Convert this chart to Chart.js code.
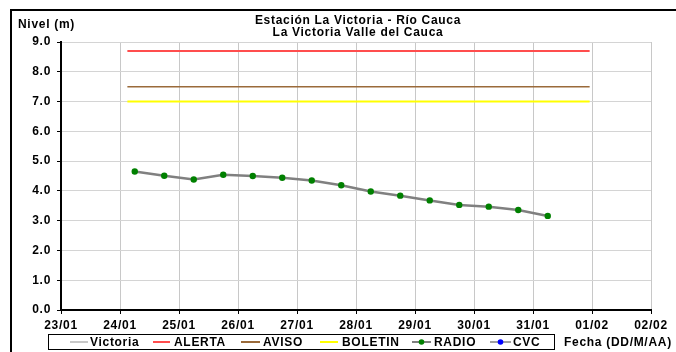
<!DOCTYPE html>
<html>
<head>
<meta charset="UTF-8">
<script src="https://cdn.jsdelivr.net/npm/chart.js@4.4.1/dist/chart.umd.min.js"></script>
<style>
  html, body { margin: 0; padding: 0; background: #fff; }
  #wrap { position: relative; width: 676px; height: 352px; }
</style>
</head>
<body>
<div id="wrap"><canvas id="nivel"></canvas></div>
<script>
// ticks along x: one label per day, starting at 23/01 (day 0)
const dateLabels = ['23/01', '24/01', '25/01', '26/01', '27/01', '28/01', '29/01', '30/01', '31/01', '01/02', '02/02'];

// RADIO readings: time in days after 23/01 00:00, level in m
const radioDays   = [1.25, 1.75, 2.25, 2.75, 3.25, 3.75, 4.25, 4.75, 5.25, 5.75, 6.25, 6.75, 7.25, 7.75, 8.25];
const radioLevels = [4.65, 4.51, 4.38, 4.54, 4.50, 4.44, 4.35, 4.19, 3.98, 3.84, 3.68, 3.53, 3.47, 3.36, 3.16];

// threshold levels (m) and the span they are drawn over
const alertaLevel  = 8.7;
const avisoLevel   = 7.5;
const boletinLevel = 7.0;
const thresholdSpan = [1.125, 8.96];

const titleLines = ['Estación La Victoria - Río Cauca', 'La Victoria Valle del Cauca'];

const FONT = "'Liberation Sans', Arial, sans-serif";
const SIZE = 12;

function flat(level) {
    return thresholdSpan.map(d => ({ x: d, y: level }));
}

const datasets = [
    { label: 'Victoria', data: [], borderColor: '#c8c8c8', borderWidth: 2, pointRadius: 0 },
    { label: 'ALERTA', data: flat(alertaLevel), borderColor: '#ff4d4d', borderWidth: 2, pointRadius: 0 },
    { label: 'AVISO', data: flat(avisoLevel), borderColor: '#9a6a3a', borderWidth: 1.5, pointRadius: 0 },
    { label: 'BOLETIN', data: flat(boletinLevel), borderColor: '#ffff00', borderWidth: 2, pointRadius: 0 },
    { label: 'RADIO', data: radioDays.map((d, i) => ({ x: d, y: radioLevels[i] })),
      borderColor: '#808080', borderWidth: 2.5, pointRadius: 3.2, pointBackgroundColor: '#008000',
      pointBorderColor: '#008000', pointBorderWidth: 0 },
    { label: 'CVC', data: [], borderColor: '#a0a0a0', borderWidth: 1.5, pointRadius: 2.5,
      pointBackgroundColor: '#0000ff', pointBorderColor: '#0000ff' }
];

// legend slots: where each sample line starts/ends and where its text begins
const legendSlots = [[70, 88, 90], [153, 170, 174], [241, 260, 263], [320, 338, 342], [412, 431, 434], [490, 511, 513]];

const decorations = {
    id: 'decorations',
    beforeDraw(chart) {
        // the Excel original renders its bold Arial quite loosely spaced
        chart.ctx.letterSpacing = '0.7px';
    },
    afterDraw(chart) {
        const ctx = chart.ctx;
        ctx.save();
        // outer frame
        ctx.strokeStyle = '#000';
        ctx.lineWidth = 2;
        ctx.beginPath();
        ctx.moveTo(11, 352);
        ctx.lineTo(11, 10);
        ctx.lineTo(676, 10);
        ctx.stroke();

        ctx.fillStyle = '#000';
        ctx.font = 'bold ' + SIZE + 'px ' + FONT;
        ctx.textBaseline = 'middle';
        ctx.textAlign = 'center';
        ctx.fillText(titleLines[0], 358, 21);
        ctx.fillText(titleLines[1], 358, 33);

        ctx.textAlign = 'left';
        ctx.fillText('Nivel (m)', 18, 25);
        ctx.fillText('Fecha (DD/M/AA)', 564, 343);

        // legend box
        ctx.lineWidth = 1;
        ctx.strokeRect(48.5, 334.5, 506, 15);
        chart.data.datasets.forEach((ds, i) => {
            const [x0, x1, tx] = legendSlots[i];
            const y = 342;
            ctx.strokeStyle = ds.borderColor;
            ctx.lineWidth = 2;
            ctx.beginPath();
            ctx.moveTo(x0, y);
            ctx.lineTo(x1, y);
            ctx.stroke();
            if (ds.pointRadius) {
                ctx.fillStyle = ds.pointBackgroundColor;
                ctx.beginPath();
                ctx.arc((x0 + x1) / 2, y, 2.8, 0, Math.PI * 2);
                ctx.fill();
            }
            ctx.fillStyle = '#000';
            ctx.fillText(ds.label, tx, y + 0.5);
        });
        ctx.restore();
    }
};

new Chart(document.getElementById('nivel'), {
    type: 'line',
    data: { datasets },
    options: {
        responsive: true,
        maintainAspectRatio: false,
        animation: false,
        layout: { padding: { left: 10, right: 25, top: 42, bottom: 20 } },
        plugins: {
            legend: { display: false },
            title: { display: false },
            tooltip: { enabled: false }
        },
        elements: { line: { tension: 0 } },
        scales: {
            x: {
                type: 'linear',
                min: 0,
                max: 10,
                afterFit(scale) { scale.height = 22; },
                ticks: {
                    stepSize: 1,
                    autoSkip: false,
                    maxRotation: 0,
                    padding: 4,
                    color: '#000',
                    font: { family: FONT, size: SIZE, weight: 'bold' },
                    callback: v => dateLabels[v]
                },
                grid: { color: '#c8c8c8', lineWidth: 1, tickLength: 4, tickColor: '#000' },
                border: { color: '#000', width: 2 }
            },
            y: {
                min: 0,
                max: 9,
                afterFit(scale) { scale.width = 51; },
                ticks: {
                    stepSize: 1,
                    padding: 6,
                    color: '#000',
                    font: { family: FONT, size: SIZE, weight: 'bold' },
                    callback: v => v.toFixed(1)
                },
                grid: { color: '#d4d4d4', lineWidth: 1, tickLength: 4, tickColor: '#000' },
                border: { color: '#000', width: 2 }
            }
        }
    },
    plugins: [decorations]
});
</script>
</body>
</html>
